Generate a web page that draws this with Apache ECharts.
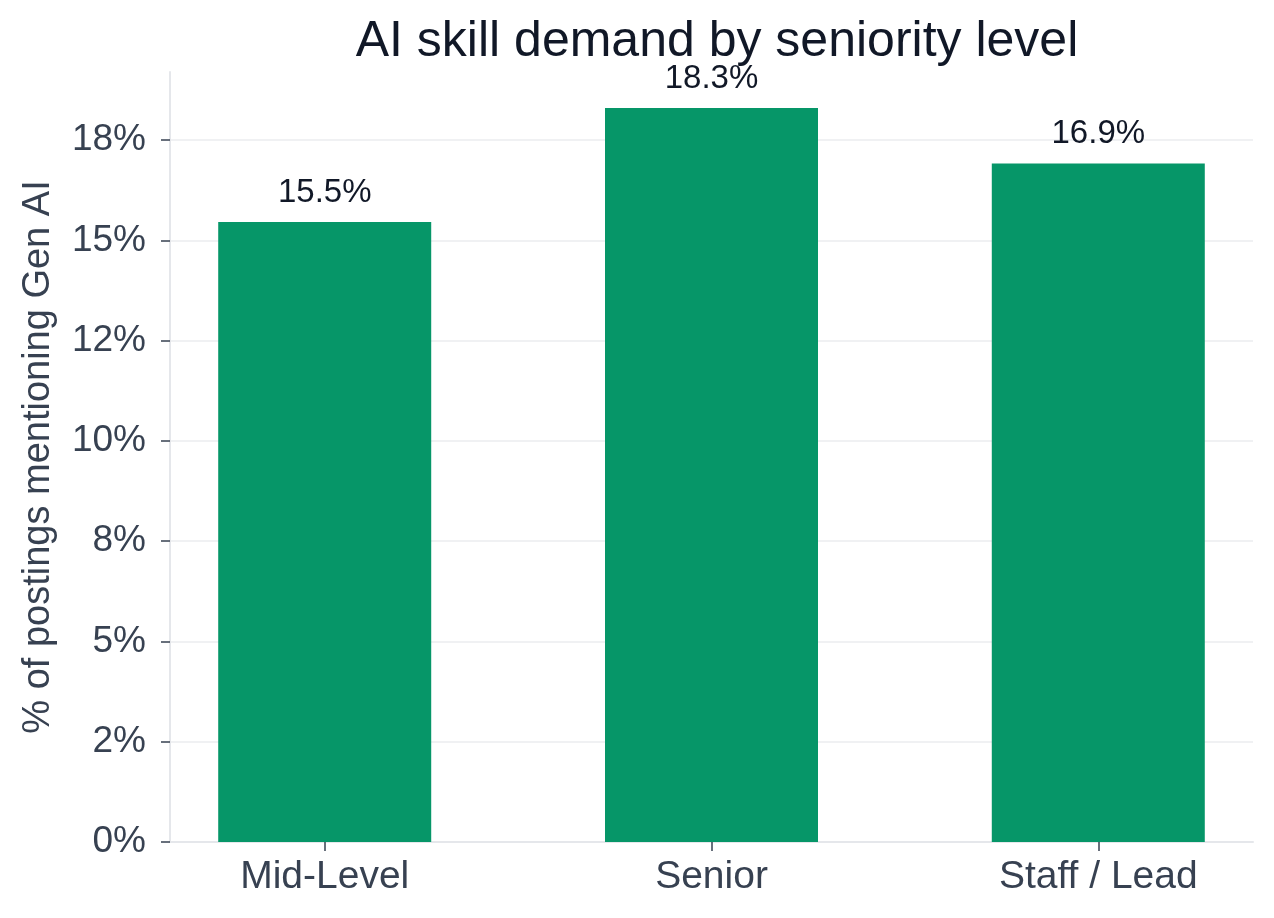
<!DOCTYPE html>
<html>
<head>
<meta charset="utf-8">
<title>AI skill demand by seniority level</title>
<script src="https://cdn.jsdelivr.net/npm/echarts@6/dist/echarts.min.js"></script>
<style>
  html, body { margin: 0; padding: 0; background: #fff; }
  #chart { width: 1274px; height: 918px; }
</style>
</head>
<body>
<div id="chart"></div>
<script>
// data
const categories = ['Mid-Level', 'Senior', 'Staff / Lead']
const shareValues = [15.46, 18.3, 16.92]
const tickValues = [0, 2.5, 5, 7.5, 10, 12.5, 15, 17.5]
const tickLabels = ['0%', '2%', '5%', '8%', '10%', '12%', '15%', '18%']

const FONT = '"Liberation Sans", Arial, Helvetica, sans-serif'
const GRID_COLOR = '#f0f1f3'

const chart = echarts.init(document.getElementById('chart'), null, { renderer: 'canvas' })

const barData = shareValues.map((v, i) => [i, v])

chart.setOption({
  animation: false,
  textStyle: { fontFamily: FONT },
  title: {
    text: 'AI skill demand by seniority level',
    left: 712,
    top: 12,
    textAlign: 'center',
    textStyle: { fontFamily: FONT, fontSize: 50, fontWeight: 'normal', color: '#111827' }
  },
  grid: { left: 170, right: 21, top: 72, bottom: 76, containLabel: false },
  xAxis: {
    type: 'value',
    min: -0.4,
    max: 2.4,
    splitLine: { show: false },
    axisLine: { show: true, onZero: false, lineStyle: { color: '#e5e7eb', width: 2 } },
    axisTick: { show: true, customValues: [0, 1, 2], length: 9, lineStyle: { color: '#374151', width: 1.5 } },
    axisLabel: {
      customValues: [0, 1, 2],
      margin: 16,
      fontSize: 39,
      color: '#374151',
      fontFamily: FONT,
      formatter: v => categories[Math.round(v)] || ''
    }
  },
  yAxis: {
    type: 'value',
    min: 0,
    max: 19.2,
    interval: 2.5,
    name: '% of postings mentioning Gen AI',
    nameLocation: 'middle',
    nameGap: 112,
    nameTextStyle: { fontSize: 38, color: '#374151', fontFamily: FONT },
    axisLine: { show: true, onZero: false, lineStyle: { color: '#e5e7eb', width: 2 } },
    axisTick: { show: true, customValues: tickValues, length: 9, lineStyle: { color: '#374151', width: 1.5 } },
    axisLabel: {
      customValues: tickValues,
      margin: 24,
      padding: [6, 0, 0, 0],
      fontSize: 37,
      color: '#374151',
      fontFamily: FONT,
      formatter: v => {
        const i = tickValues.indexOf(v)
        return i >= 0 ? tickLabels[i] : ''
      }
    },
    splitLine: {
      show: true,
      lineStyle: {
        width: 2,
        color: ['transparent', GRID_COLOR, GRID_COLOR, GRID_COLOR, GRID_COLOR,
                GRID_COLOR, GRID_COLOR, GRID_COLOR, 'transparent']
      }
    }
  },
  series: [{
    type: 'bar',
    data: barData,
    barWidth: 213,
    itemStyle: { color: '#069668' },
    label: {
      show: true,
      position: 'top',
      distance: 13,
      fontSize: 33,
      color: '#111827',
      fontFamily: FONT,
      formatter: p => p.value[1].toFixed(1) + '%'
    }
  }]
})
</script>
</body>
</html>
